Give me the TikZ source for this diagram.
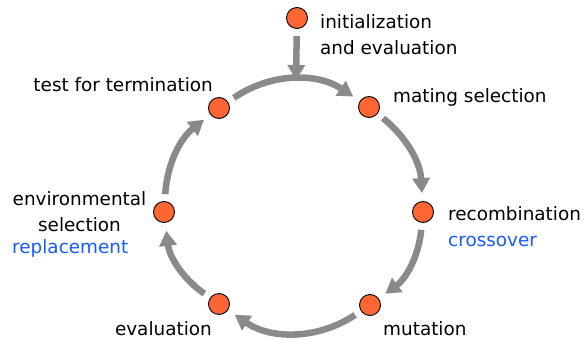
\documentclass[tikz,border=0pt]{standalone}
\usepackage{fontspec}
\setmainfont{DejaVu Sans}
\usepackage{tikz}
\usetikzlibrary{arrows.meta}
\definecolor{dotorange}{RGB}{255,102,51}
\definecolor{loopgray}{RGB}{138,138,138}
\definecolor{altblue}{RGB}{25,90,255}

\begin{document}
\begin{tikzpicture}[
        x=1pt, y=1pt,
        every node/.style={inner sep=0pt},
        stage/.style={circle, draw=black, line width=0.9pt, fill=dotorange, minimum size=21pt},
        lbl/.style={font=\fontsize{18.4}{26.5}\selectfont},
        flow/.style={draw=loopgray, line width=6.5pt, -{Triangle[length=15pt,width=17pt]}, shorten <=7pt, shorten >=8pt}
        ]
        \tikzstyle{alt} = [lbl, text=altblue];
        \useasboundingbox (0,0) rectangle (584,-340);

        \node[stage] (init) at (297,-18) {};
        \node[stage] (test) at (219,-108) {};
        \node[stage] (mate) at (369,-107) {};
        \node[stage] (recomb) at (423,-212) {};
        \node[stage] (mut) at (370,-305) {};
        \node[stage] (eval) at (219,-304) {};
        \node[stage] (env) at (164,-212) {};
        \coordinate (initEnd) at (296,-80);

        \draw[flow, shorten >=0pt] (init) -- (initEnd);
        \draw[flow] (test) to[bend left=34] (mate);
        \draw[flow] (mate) to[bend left=24] (recomb);
        \draw[flow] (recomb) to[bend left=24] (mut);
        \draw[flow] (mut) to[bend left=34] (eval);
        \draw[flow] (eval) to[bend left=24] (env);
        \draw[flow] (env) to[bend left=24] (test);

        \node[lbl, anchor=north west, align=left] (initLbl) at (320,-14) {initialization\\and evaluation};
        \node[lbl, anchor=base west] (mateLbl) at (393,-102) {mating selection};
        \node[lbl, anchor=base east] (testLbl) at (213,-91) {test for termination};
        \node[lbl, anchor=north west, align=left] (recombLbl) at (448,-206) {recombination\\\textcolor{altblue}{crossover}};
        \node[lbl, anchor=base west] (mutLbl) at (383,-335) {mutation};
        \node[lbl, anchor=base east] (evalLbl) at (212,-335) {evaluation};
        \node[lbl, anchor=north, align=center] (envLbl) at (79.5,-191) {environmental\\selection};
        \node[alt, anchor=base west] (envAlt) at (12,-253) {replacement};
\end{tikzpicture}
\end{document}
